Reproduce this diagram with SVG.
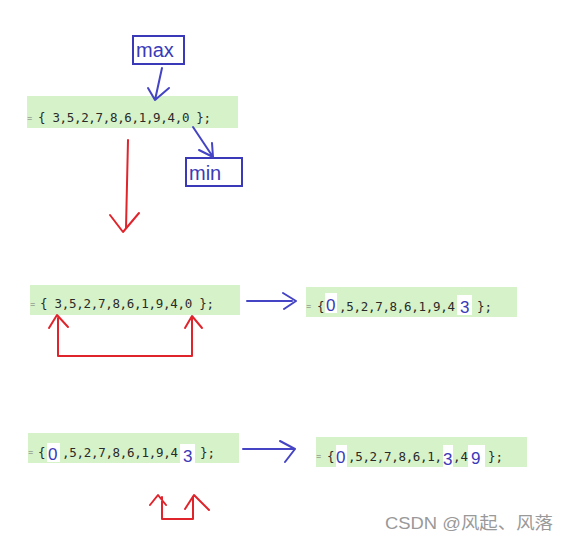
<svg xmlns="http://www.w3.org/2000/svg" width="572" height="546" viewBox="0 0 572 546">
<style>
.bg{fill:#d6f2c8}
.code{font-family:"DejaVu Sans Mono","Liberation Mono",monospace;font-size:12.5px;fill:#2a2a2a}
.eq{font-family:"Liberation Mono",monospace;font-size:9px;fill:#777}
.hl{fill:#fff}
.big{font-family:"Liberation Sans","DejaVu Sans",sans-serif;font-size:17px;fill:#3a3ab8}
.lbl{font-family:"Liberation Sans","DejaVu Sans",sans-serif;font-size:20px;fill:#3a3ab8}
.box{fill:none;stroke:#3a3ab8;stroke-width:2}
.blue{fill:none;stroke:#4444c4;stroke-width:2;stroke-linecap:round;stroke-linejoin:round}
.red{fill:none;stroke:#e0242c;stroke-width:2;stroke-linecap:round;stroke-linejoin:round}
.wm{font-family:"Liberation Sans","Noto Sans CJK SC",sans-serif;font-size:17px;fill:#999}
</style>

<g id="array1">
<rect class="bg" x="27" y="96" width="211" height="32"/>
<text class="eq" x="27" y="121">=</text>
<text class="code" x="38" y="122" textLength="173" lengthAdjust="spacing">{ 3,5,2,7,8,6,1,9,4,0 };</text>
</g>

<g id="max">
<rect class="box" x="133" y="36" width="51" height="28"/>
<text class="lbl" x="136" y="57">max</text>
</g>

<g id="min">
<rect class="box" x="186" y="158" width="56" height="28"/>
<text class="lbl" x="189" y="180">min</text>
</g>

<g id="array2">
<rect class="bg" x="30" y="285" width="210" height="30"/>
<text class="eq" x="30" y="307">=</text>
<text class="code" x="40" y="308" textLength="174" lengthAdjust="spacing">{ 3,5,2,7,8,6,1,9,4,0 };</text>
</g>

<g id="array3">
<rect class="bg" x="306" y="287" width="211" height="30"/>
<text class="eq" x="306" y="309">=</text>
<text class="code" x="317" y="311">{</text>
<rect class="hl" x="325" y="293" width="12" height="20"/>
<text class="big" x="326" y="311">0</text>
<text class="code" x="339" y="311" textLength="116" lengthAdjust="spacing">,5,2,7,8,6,1,9,4</text>
<rect class="hl" x="457" y="295" width="15" height="20"/>
<text class="big" x="460" y="313">3</text>
<text class="code" x="477" y="311">};</text>
</g>

<g id="array4">
<rect class="bg" x="28" y="433" width="211" height="30"/>
<text class="eq" x="28" y="455">=</text>
<text class="code" x="38" y="457">{</text>
<rect class="hl" x="47" y="443" width="13" height="19"/>
<text class="big" x="48" y="460">0</text>
<text class="code" x="62" y="457" textLength="116" lengthAdjust="spacing">,5,2,7,8,6,1,9,4</text>
<rect class="hl" x="180" y="444" width="15" height="20"/>
<text class="big" x="183" y="462">3</text>
<text class="code" x="200" y="457">};</text>
</g>

<g id="array5">
<rect class="bg" x="316" y="437" width="211" height="30"/>
<text class="eq" x="316" y="459">=</text>
<text class="code" x="327" y="461">{</text>
<rect class="hl" x="336" y="445" width="11" height="22"/>
<text class="big" x="336" y="463">0</text>
<text class="code" x="348" y="461" textLength="94" lengthAdjust="spacing">,5,2,7,8,6,1,</text>
<rect class="hl" x="443" y="445" width="10" height="22"/>
<text class="big" x="443" y="465">3</text>
<text class="code" x="453" y="461">,4</text>
<rect class="hl" x="468" y="445" width="17" height="22"/>
<text class="big" x="471" y="464">9</text>
<text class="code" x="488" y="461">};</text>
</g>

<g id="connectors">
<path class="blue" d="M162 68 L155 100 M148 88 L155 100 L169 88"/>
<path class="blue" d="M193 127 L213 157 M199 150 L213 157 L212 143"/>
<path class="red" d="M128 140 L126 228 M110 215 L123 232 L139 213"/>
<path class="red" d="M58 318 L58 356 L192 356 L192 318 M49 328 L57 315 L68 327 M185 328 L192 316 L202 328"/>
<path class="blue" d="M247 301 L292 301 M283 293 L296 301 L284 309"/>
<path class="blue" d="M243 449 L294 449 M280 441 L295 449 L285 462"/>
<path class="red" d="M162 497 L162 519 L193 519 L193 497 M150 505 L158 495 L166 505 M185 509 L194 495 L209 510"/>
</g>

<text class="wm" x="385" y="529" textLength="168" lengthAdjust="spacingAndGlyphs">CSDN @风起、风落</text>
</svg>
